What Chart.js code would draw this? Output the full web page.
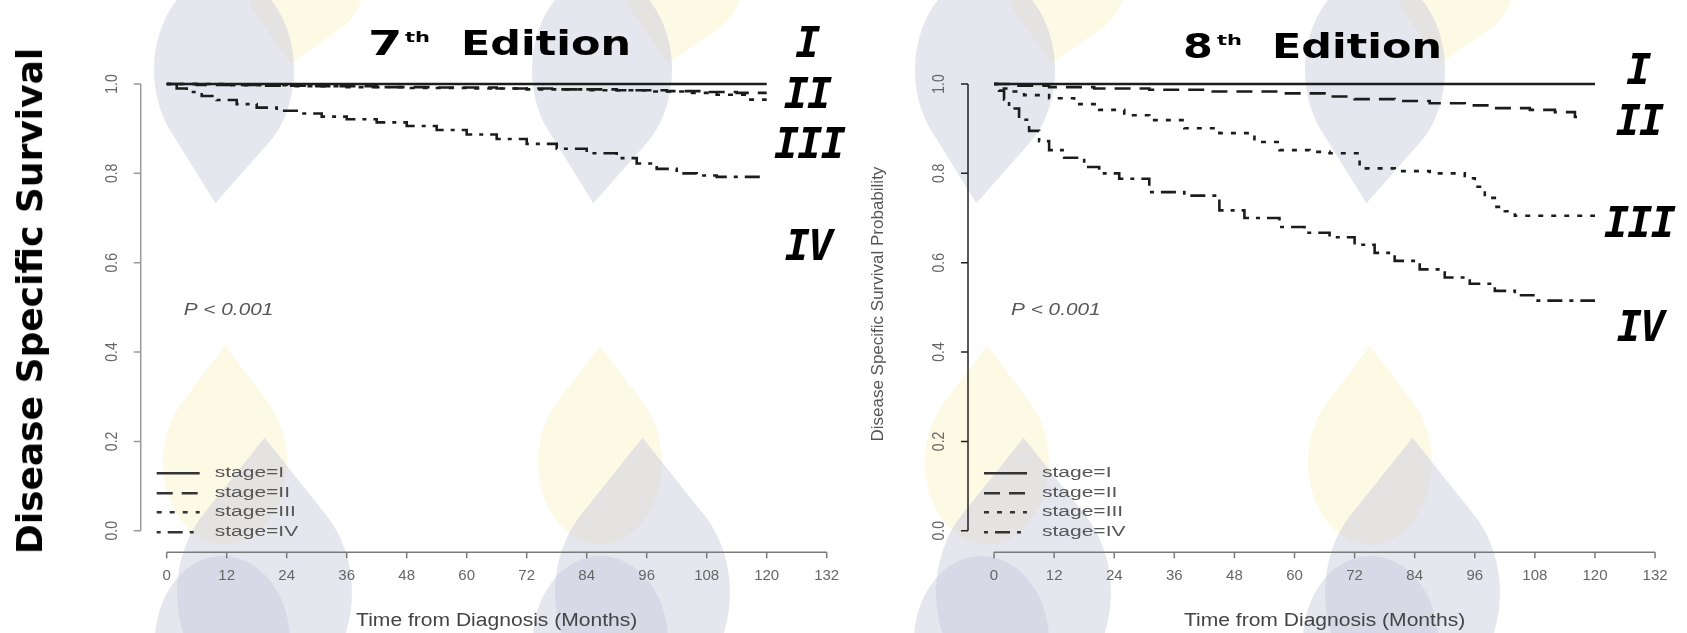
<!DOCTYPE html>
<html>
<head>
<meta charset="utf-8">
<script src="https://cdn.jsdelivr.net/npm/chart.js@4.4.1/dist/chart.umd.min.js"></script>
<style>
  html, body { margin: 0; padding: 0; background: #fff; }
  #page { position: relative; width: 1687px; height: 633px; overflow: hidden; background: #fff; }
  .box { position: absolute; top: 0; height: 633px; }
  .wm { position: absolute; border-radius: 0 50% 50% 50%; }
  .wm.gray { background: rgba(200, 200, 220, 0.45); }
  .wm.yellow { background: rgba(245, 235, 170, 0.3); }
  .wm.round { border-radius: 50%; }
  .t { position: absolute; font-family: "DejaVu Sans"; font-weight: bold; color: #000; white-space: nowrap; line-height: 1; transform-origin: left top; }
  .roman { position: absolute; font-family: "DejaVu Sans Mono"; font-weight: bold; font-style: italic; font-size: 42px; letter-spacing: -2px; line-height: 1; color: #000; transform: translate(-50%, -50%); }
  #ylab { position: absolute; left: 30px; top: 301px; font-family: "DejaVu Sans"; font-weight: bold; font-size: 36px; line-height: 1; white-space: nowrap; transform: translate(-50%, -50%) rotate(-90deg); }
</style>
</head>
<body>
<div id="page">
  <!-- watermark logo, repeated four times -->
  <div class="wm yellow" style="left:245px;top:-80px;width:120px;height:120px;transform:rotate(235deg)"></div>
  <div class="wm yellow" style="left:623px;top:-80px;width:120px;height:120px;transform:rotate(235deg)"></div>
  <div class="wm yellow" style="left:1006px;top:-80px;width:120px;height:120px;transform:rotate(235deg)"></div>
  <div class="wm yellow" style="left:1395px;top:-80px;width:120px;height:120px;transform:rotate(235deg)"></div>
  <div class="wm gray" style="left:154px;top:0px;width:140px;height:140px;transform:scale(1,1.35) rotate(230deg)"></div>
  <div class="wm gray" style="left:532px;top:0px;width:140px;height:140px;transform:scale(1,1.35) rotate(230deg)"></div>
  <div class="wm gray" style="left:915px;top:0px;width:140px;height:140px;transform:scale(1,1.35) rotate(230deg)"></div>
  <div class="wm gray" style="left:1305px;top:0px;width:140px;height:140px;transform:scale(1,1.35) rotate(230deg)"></div>

  <div class="wm yellow" style="left:163px;top:400px;width:124px;height:124px;transform:scale(1,1.33) rotate(45deg)"></div>
  <div class="wm yellow" style="left:538px;top:400px;width:124px;height:124px;transform:scale(1,1.33) rotate(45deg)"></div>
  <div class="wm yellow" style="left:925px;top:400px;width:124px;height:124px;transform:scale(1,1.33) rotate(45deg)"></div>
  <div class="wm yellow" style="left:1308px;top:400px;width:124px;height:124px;transform:scale(1,1.33) rotate(45deg)"></div>
  <div class="wm gray" style="left:177px;top:505px;width:175px;height:175px;transform:scale(1,1.25) rotate(45deg)"></div>
  <div class="wm gray" style="left:555px;top:505px;width:175px;height:175px;transform:scale(1,1.25) rotate(45deg)"></div>
  <div class="wm gray" style="left:936px;top:505px;width:175px;height:175px;transform:scale(1,1.25) rotate(45deg)"></div>
  <div class="wm gray" style="left:1325px;top:505px;width:175px;height:175px;transform:scale(1,1.25) rotate(45deg)"></div>
  <div class="wm gray round" style="left:155px;top:556px;width:135px;height:170px"></div>
  <div class="wm gray round" style="left:533px;top:556px;width:135px;height:170px"></div>
  <div class="wm gray round" style="left:914px;top:556px;width:135px;height:170px"></div>
  <div class="wm gray round" style="left:1303px;top:556px;width:135px;height:170px"></div>

  <div class="box" style="left:0;width:860px"><canvas id="c7"></canvas></div>
  <div class="box" style="left:860px;width:827px"><canvas id="c8"></canvas></div>

  <div id="ylab">Disease Specific Survival</div>

  <div class="t" style="left:368px;top:27px;font-size:33px;transform:scaleX(1.5)">7</div>
  <div class="t" style="left:405px;top:30px;font-size:14px;transform:scaleX(1.5)">th</div>
  <div class="t" style="left:461px;top:27px;font-size:33px;transform:scaleX(1.3)">Edition</div>
  <div class="t" style="left:1183px;top:30px;font-size:33px;transform:scaleX(1.3)">8</div>
  <div class="t" style="left:1217px;top:33px;font-size:14px;transform:scaleX(1.5)">th</div>
  <div class="t" style="left:1272px;top:30px;font-size:33px;transform:scaleX(1.3)">Edition</div>

  <div class="roman" style="left:807px;top:43px">I</div>
  <div class="roman" style="left:807px;top:94px">II</div>
  <div class="roman" style="left:809px;top:144px">III</div>
  <div class="roman" style="left:808px;top:246px">IV</div>
  <div class="roman" style="left:1638px;top:70px">I</div>
  <div class="roman" style="left:1639px;top:121px">II</div>
  <div class="roman" style="left:1639px;top:223px">III</div>
  <div class="roman" style="left:1640px;top:327px">IV</div>
</div>

<script>
// axes
const xTicks = [0, 12, 24, 36, 48, 60, 72, 84, 96, 108, 120, 132];
const yTicks = [0, 0.2, 0.4, 0.6, 0.8, 1.0];
const yTickLabels = ['0.0', '0.2', '0.4', '0.6', '0.8', '1.0'];
const stageNames = ['stage=I', 'stage=II', 'stage=III', 'stage=IV'];
const xTitle = 'Time from Diagnosis (Months)';
const pLabel = 'P < 0.001';

// 7th edition (Kaplan-Meier, months / survival)
const ed7TimeI = [0, 120];
const ed7SurvI = [1, 1];
const ed7TimeII = [0, 6, 18, 30, 42, 54, 66, 78, 90, 100, 108, 114, 120];
const ed7SurvII = [1, 0.998, 0.996, 0.995, 0.993, 0.992, 0.99, 0.988, 0.986, 0.984, 0.982, 0.98, 0.98];
const ed7TimeIII = [0, 12, 24, 36, 48, 60, 72, 84, 96, 104, 110, 116, 120];
const ed7SurvIII = [1, 0.997, 0.995, 0.993, 0.991, 0.99, 0.988, 0.986, 0.983, 0.98, 0.976, 0.965, 0.965];
const ed7TimeIV = [0, 2, 4, 7, 10, 14, 18, 22, 26, 31, 36, 42, 48, 54, 60, 66, 72, 78, 84, 90, 94, 98, 102, 106, 110, 120];
const ed7SurvIV = [1, 0.99, 0.982, 0.973, 0.964, 0.955, 0.947, 0.94, 0.934, 0.927, 0.921, 0.914, 0.906, 0.897, 0.887, 0.877, 0.866, 0.855, 0.845, 0.834, 0.822, 0.81, 0.8, 0.795, 0.792, 0.792];

// 8th edition
const ed8TimeI = [0, 120];
const ed8SurvI = [1, 1];
const ed8TimeII = [0, 4, 11, 20, 31, 42, 57, 66, 72, 80, 87, 94, 100, 107, 112, 116, 117];
const ed8SurvII = [1, 0.996, 0.993, 0.99, 0.987, 0.983, 0.979, 0.972, 0.966, 0.962, 0.957, 0.952, 0.946, 0.942, 0.937, 0.926, 0.92];
const ed8TimeIII = [0, 1, 3, 6, 11, 16, 21, 26, 31, 38, 45, 52, 57, 63, 67, 73, 80, 87, 94, 96, 98, 100, 102, 104, 120];
const ed8SurvIII = [1, 0.99, 0.983, 0.975, 0.968, 0.955, 0.942, 0.93, 0.919, 0.901, 0.89, 0.87, 0.852, 0.848, 0.845, 0.811, 0.805, 0.8, 0.789, 0.77, 0.745, 0.725, 0.715, 0.705, 0.705];
const ed8TimeIV = [0, 1, 2, 3, 5, 7, 9, 11, 14, 18, 21, 25, 31, 38, 45, 50, 57, 62, 67, 72, 76, 80, 85, 90, 95, 100, 104, 108, 120];
const ed8SurvIV = [1, 0.985, 0.965, 0.945, 0.92, 0.895, 0.872, 0.852, 0.835, 0.814, 0.8, 0.788, 0.758, 0.75, 0.717, 0.7, 0.68, 0.667, 0.657, 0.64, 0.622, 0.604, 0.585, 0.567, 0.553, 0.537, 0.527, 0.515, 0.515];

const lineDashes = [[], [16, 9], [5, 8], [4, 7, 15, 7]];

function pts(t, s) {
    return t.map((v, i) => ({ x: v, y: s[i] }));
}

// draws R-style axes, legend and labels from the chart's scales
const survivalAxes = {
    id: 'survivalAxes',
    afterDraw(chart, args, opt) {
        const { ctx, chartArea: a, scales: { x, y } } = chart;
        ctx.save();

        // y axis
        ctx.strokeStyle = opt.yAxisColor;
        ctx.lineWidth = 1.5;
        ctx.beginPath();
        ctx.moveTo(a.left, y.getPixelForValue(yTicks[0]));
        ctx.lineTo(a.left, y.getPixelForValue(yTicks[yTicks.length - 1]));
        yTicks.forEach(v => {
            const py = y.getPixelForValue(v);
            ctx.moveTo(a.left, py);
            ctx.lineTo(a.left - 7, py);
        });
        ctx.stroke();

        ctx.fillStyle = '#666';
        ctx.font = '14px "Liberation Sans"';
        ctx.textAlign = 'center';
        ctx.textBaseline = 'middle';
        yTicks.forEach((v, i) => {
            ctx.save();
            ctx.translate(a.left - 28, y.getPixelForValue(v));
            ctx.rotate(-Math.PI / 2);
            ctx.scale(1, 1.15);
            ctx.fillText(yTickLabels[i], 0, 0);
            ctx.restore();
        });

        // x axis
        ctx.strokeStyle = '#7a7a7a';
        ctx.beginPath();
        ctx.moveTo(x.getPixelForValue(xTicks[0]), a.bottom);
        ctx.lineTo(x.getPixelForValue(xTicks[xTicks.length - 1]), a.bottom);
        xTicks.forEach(v => {
            const px = x.getPixelForValue(v);
            ctx.moveTo(px, a.bottom);
            ctx.lineTo(px, a.bottom + 6);
        });
        ctx.stroke();

        ctx.font = '15px "Liberation Sans"';
        xTicks.forEach(v => ctx.fillText(String(v), x.getPixelForValue(v), a.bottom + 24));

        // x title
        ctx.fillStyle = '#444';
        ctx.font = '18px "Liberation Sans"';
        ctx.save();
        ctx.translate(x.getPixelForValue(66), a.bottom + 69);
        ctx.scale(1.17, 1);
        ctx.fillText(xTitle, 0, 0);
        ctx.restore();

        // small y title (8th edition only)
        if (opt.yTitle) {
            ctx.fillStyle = '#555';
            ctx.font = '17px "Liberation Sans"';
            ctx.save();
            ctx.translate(a.left - 90, a.top + 238);
            ctx.rotate(-Math.PI / 2);
            ctx.fillText(opt.yTitle, 0, 0);
            ctx.restore();
        }

        // p value
        ctx.fillStyle = '#555';
        ctx.font = 'italic 16px "Liberation Sans"';
        ctx.textAlign = 'left';
        ctx.save();
        ctx.translate(a.left + 43, a.top + 244);
        ctx.scale(1.3, 1);
        ctx.fillText(pLabel, 0, 0);
        ctx.restore();

        // legend
        const rows = [79, 59, 40, 20];
        chart.data.datasets.forEach((ds, i) => {
            const ly = a.bottom - rows[i];
            ctx.strokeStyle = '#333';
            ctx.lineWidth = 2.4;
            ctx.setLineDash(ds.borderDash);
            ctx.beginPath();
            ctx.moveTo(a.left + 16, ly);
            ctx.lineTo(a.left + 59, ly);
            ctx.stroke();
            ctx.setLineDash([]);
            ctx.fillStyle = '#555';
            ctx.font = '14px "Liberation Sans"';
            ctx.save();
            ctx.translate(a.left + 74, ly);
            ctx.scale(1.5, 1);
            ctx.fillText(stageNames[i], 0, 0);
            ctx.restore();
        });

        ctx.restore();
    }
};

function makeChart(id, times, survs, padding, yAxisColor, yTitle) {
    const datasets = times.map((t, i) => ({
        label: stageNames[i],
        data: pts(t, survs[i]),
        borderColor: '#1c1c1c',
        borderWidth: 2.6,
        borderDash: lineDashes[i],
        stepped: 'before',
        pointRadius: 0,
        fill: false
    }));

    return new Chart(document.getElementById(id), {
        type: 'line',
        data: { datasets: datasets },
        options: {
            responsive: true,
            maintainAspectRatio: false,
            animation: false,
            layout: { padding: padding },
            scales: {
                x: { type: 'linear', min: -5.2, max: 137.3, display: false },
                y: { type: 'linear', min: -0.048, max: 1.04, display: false }
            },
            plugins: {
                legend: { display: false },
                tooltip: { enabled: false },
                survivalAxes: { yAxisColor: yAxisColor, yTitle: yTitle }
            }
        },
        plugins: [survivalAxes]
    });
}

makeChart('c7',
    [ed7TimeI, ed7TimeII, ed7TimeIII, ed7TimeIV],
    [ed7SurvI, ed7SurvII, ed7SurvIII, ed7SurvIV],
    { left: 140.7, right: 6.8, top: 66.1, bottom: 80.8 }, '#9a9a9a', null);

makeChart('c8',
    [ed8TimeI, ed8TimeII, ed8TimeIII, ed8TimeIV],
    [ed8SurvI, ed8SurvII, ed8SurvIII, ed8SurvIV],
    { left: 108, right: 5.4, top: 66.1, bottom: 80.8 }, '#222', 'Disease Specific Survival Probability');
</script>
</body>
</html>
